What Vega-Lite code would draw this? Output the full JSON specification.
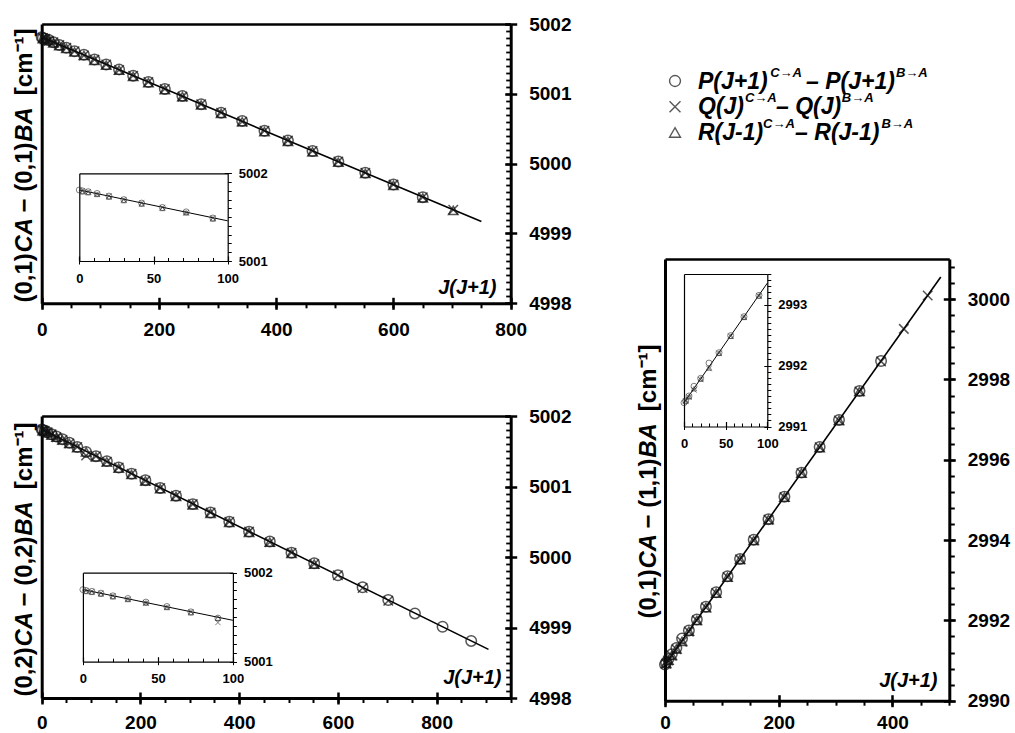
{
"$schema": "https://vega.github.io/schema/vega-lite/v6.json",
"width": 1015, "height": 733, "padding": 0, "autosize": {"type": "none"}, "background": "white",
"config": {"font": "Liberation Sans", "view": {"stroke": null},
  "axis": {"grid": false, "labelFlush": false, "labelOverlap": false, "labelBound": false, "domainColor": "black", "tickColor": "black", "labelColor": "black", "titleColor": "black", "labelFontWeight": "bold", "titleFontWeight": "bold", "labelFont": "Liberation Sans", "titleFont": "Liberation Sans"}},
"resolve": {"scale": {"x": "independent", "y": "independent", "shape": "independent"}, "axis": {"x": "independent", "y": "independent"}},
"datasets": {
 "l1": [{"x": 0, "y": 5001.81}, {"x": 750, "y": 4999.17}],
 "l1in": [{"x": 0, "y": 5001.81}, {"x": 100, "y": 5001.458}],
 "l2": [{"x": 0, "y": 5001.81}, {"x": 905, "y": 4998.69}],
 "l2in": [{"x": 0, "y": 5001.81}, {"x": 100, "y": 5001.465}],
 "l3": [{"x": 0, "y": 2990.9}, {"x": 485, "y": 3000.55}],
 "l3in": [{"x": 0, "y": 2991.39}, {"x": 100, "y": 2993.35}],
 "p1": [
  {"x": 0, "P": 5001.81, "Q": null, "R": null},
  {"x": 2, "P": 5001.80, "Q": 5001.80, "R": 5001.79},
  {"x": 6, "P": 5001.79, "Q": 5001.79, "R": 5001.78},
  {"x": 12, "P": 5001.77, "Q": 5001.76, "R": 5001.76},
  {"x": 20, "P": 5001.74, "Q": 5001.74, "R": 5001.73},
  {"x": 30, "P": 5001.70, "Q": 5001.70, "R": 5001.69},
  {"x": 42, "P": 5001.66, "Q": 5001.66, "R": 5001.65},
  {"x": 56, "P": 5001.61, "Q": 5001.61, "R": 5001.60},
  {"x": 72, "P": 5001.56, "Q": 5001.55, "R": 5001.55},
  {"x": 90, "P": 5001.49, "Q": 5001.49, "R": 5001.48},
  {"x": 110, "P": 5001.42, "Q": 5001.42, "R": 5001.41},
  {"x": 132, "P": 5001.35, "Q": 5001.34, "R": 5001.34},
  {"x": 156, "P": 5001.26, "Q": 5001.26, "R": 5001.25},
  {"x": 182, "P": 5001.17, "Q": 5001.17, "R": 5001.16},
  {"x": 210, "P": 5001.07, "Q": 5001.07, "R": 5001.06},
  {"x": 240, "P": 5000.97, "Q": 5000.96, "R": 5000.96},
  {"x": 272, "P": 5000.85, "Q": 5000.85, "R": 5000.84},
  {"x": 306, "P": 5000.73, "Q": 5000.73, "R": 5000.72},
  {"x": 342, "P": 5000.61, "Q": 5000.60, "R": 5000.60},
  {"x": 380, "P": 5000.47, "Q": 5000.47, "R": 5000.46},
  {"x": 420, "P": 5000.33, "Q": 5000.33, "R": 5000.32},
  {"x": 462, "P": 5000.18, "Q": 5000.18, "R": 5000.17},
  {"x": 506, "P": 5000.03, "Q": 5000.03, "R": 5000.02},
  {"x": 552, "P": 4999.87, "Q": 4999.87, "R": 4999.86},
  {"x": 600, "P": 4999.70, "Q": 4999.70, "R": 4999.69},
  {"x": 650, "P": 4999.52, "Q": 4999.52, "R": 4999.51},
  {"x": 702, "P": null, "Q": 4999.34, "R": 4999.33}],
 "p2": [
  {"x": 0, "P": 5001.81, "Q": null, "R": null},
  {"x": 2, "P": 5001.80, "Q": 5001.80, "R": 5001.79},
  {"x": 6, "P": 5001.79, "Q": 5001.79, "R": 5001.78},
  {"x": 12, "P": 5001.77, "Q": 5001.77, "R": 5001.76},
  {"x": 20, "P": 5001.74, "Q": 5001.74, "R": 5001.73},
  {"x": 30, "P": 5001.71, "Q": 5001.70, "R": 5001.70},
  {"x": 42, "P": 5001.67, "Q": 5001.66, "R": 5001.66},
  {"x": 56, "P": 5001.62, "Q": 5001.61, "R": 5001.61},
  {"x": 72, "P": 5001.56, "Q": 5001.56, "R": 5001.55},
  {"x": 90, "P": 5001.49, "Q": 5001.44, "R": 5001.49},
  {"x": 110, "P": 5001.43, "Q": 5001.43, "R": 5001.42},
  {"x": 132, "P": 5001.36, "Q": 5001.35, "R": 5001.35},
  {"x": 156, "P": 5001.27, "Q": 5001.27, "R": 5001.26},
  {"x": 182, "P": 5001.18, "Q": 5001.18, "R": 5001.17},
  {"x": 210, "P": 5001.09, "Q": 5001.08, "R": 5001.08},
  {"x": 240, "P": 5000.98, "Q": 5000.98, "R": 5000.97},
  {"x": 272, "P": 5000.87, "Q": 5000.87, "R": 5000.86},
  {"x": 306, "P": 5000.75, "Q": 5000.75, "R": 5000.74},
  {"x": 342, "P": 5000.63, "Q": 5000.63, "R": 5000.62},
  {"x": 380, "P": 5000.50, "Q": 5000.50, "R": 5000.49},
  {"x": 420, "P": 5000.36, "Q": 5000.36, "R": 5000.35},
  {"x": 462, "P": 5000.22, "Q": 5000.21, "R": 5000.21},
  {"x": 506, "P": 5000.06, "Q": 5000.06, "R": 5000.05},
  {"x": 552, "P": 4999.91, "Q": 4999.90, "R": 4999.90},
  {"x": 600, "P": 4999.74, "Q": 4999.74, "R": null},
  {"x": 650, "P": 4999.57, "Q": 4999.56, "R": null},
  {"x": 702, "P": 4999.39, "Q": 4999.38, "R": null},
  {"x": 756, "P": 4999.20, "Q": null, "R": null},
  {"x": 812, "P": 4999.01, "Q": null, "R": null},
  {"x": 870, "P": 4998.81, "Q": null, "R": null}],
 "p3": [
  {"x": 0, "P": 2990.90, "Q": null, "R": null},
  {"x": 2, "P": 2990.95, "Q": 2990.92, "R": 2990.93},
  {"x": 6, "P": 2991.04, "Q": 2991.00, "R": 2991.01},
  {"x": 12, "P": 2991.16, "Q": 2991.12, "R": 2991.13},
  {"x": 20, "P": 2991.31, "Q": 2991.28, "R": 2991.29},
  {"x": 30, "P": 2991.55, "Q": 2991.47, "R": 2991.48},
  {"x": 42, "P": 2991.75, "Q": 2991.72, "R": 2991.73},
  {"x": 56, "P": 2992.02, "Q": 2992.00, "R": 2992.00},
  {"x": 72, "P": 2992.34, "Q": 2992.32, "R": 2992.32},
  {"x": 90, "P": 2992.70, "Q": 2992.68, "R": 2992.68},
  {"x": 110, "P": 2993.10, "Q": 2993.08, "R": 2993.08},
  {"x": 132, "P": 2993.53, "Q": 2993.52, "R": 2993.52},
  {"x": 156, "P": 2994.01, "Q": 2993.99, "R": 2993.99},
  {"x": 182, "P": 2994.52, "Q": 2994.51, "R": 2994.51},
  {"x": 210, "P": 2995.08, "Q": 2995.07, "R": 2995.07},
  {"x": 240, "P": 2995.68, "Q": 2995.67, "R": 2995.67},
  {"x": 272, "P": 2996.32, "Q": 2996.31, "R": 2996.30},
  {"x": 306, "P": 2996.99, "Q": 2996.98, "R": 2996.98},
  {"x": 342, "P": 2997.71, "Q": 2997.70, "R": 2997.70},
  {"x": 380, "P": 2998.46, "Q": 2998.45, "R": null},
  {"x": 420, "P": null, "Q": 2999.26, "R": null},
  {"x": 462, "P": null, "Q": 3000.09, "R": null}],
 "p3in": [
  {"x": 0, "P": 2991.39, "Q": null, "R": null},
  {"x": 2, "P": 2991.42, "Q": 2991.42, "R": 2991.42},
  {"x": 6, "P": 2991.50, "Q": 2991.48, "R": 2991.49},
  {"x": 12, "P": 2991.66, "Q": 2991.60, "R": 2991.62},
  {"x": 20, "P": 2991.79, "Q": 2991.77, "R": 2991.78},
  {"x": 30, "P": 2992.04, "Q": 2991.95, "R": 2991.96},
  {"x": 42, "P": 2992.21, "Q": 2992.20, "R": 2992.20},
  {"x": 56, "P": 2992.49, "Q": 2992.48, "R": 2992.48},
  {"x": 72, "P": 2992.80, "Q": 2992.79, "R": 2992.79},
  {"x": 90, "P": 2993.15, "Q": 2993.14, "R": 2993.14}],
 "legend": [
  {"b": "P", "r": 1, "t1": "P(J+1)\u00a0\u00a0\u00a0\u00a0\u00a0\u00a0–\u00a0P(J+1)", "t2": "\u200b\u00a0\u00a0\u00a0\u00a0\u00a0\u00a0\u00a0\u00a0\u00a0\u00a0\u00a0\u00a0\u00a0\u00a0\u00a0\u00a0\u00a0\u00a0\u00a0\u00a0C→A\u00a0\u00a0\u00a0\u00a0\u00a0\u00a0\u00a0\u00a0\u00a0\u00a0\u00a0\u00a0\u00a0\u00a0\u00a0\u00a0\u00a0\u00a0\u00a0\u00a0\u00a0\u00a0\u00a0\u00a0\u00a0\u00a0B→A"},
  {"b": "Q", "r": 2, "t1": "Q(J)\u00a0\u00a0\u00a0\u00a0\u00a0–\u00a0Q(J)", "t2": "\u200b\u00a0\u00a0\u00a0\u00a0\u00a0\u00a0\u00a0\u00a0\u00a0\u00a0\u00a0\u00a0\u00a0C→A\u00a0\u00a0\u00a0\u00a0\u00a0\u00a0\u00a0\u00a0\u00a0\u00a0\u00a0\u00a0\u00a0\u00a0\u00a0\u00a0\u00a0\u00a0B→A"},
  {"b": "R", "r": 3, "t1": "R(J-1)\u00a0\u00a0\u00a0\u00a0\u00a0–\u00a0R(J-1)", "t2": "\u200b\u00a0\u00a0\u00a0\u00a0\u00a0\u00a0\u00a0\u00a0\u00a0\u00a0\u00a0\u00a0\u00a0\u00a0\u00a0\u00a0\u00a0\u00a0C→A\u00a0\u00a0\u00a0\u00a0\u00a0\u00a0\u00a0\u00a0\u00a0\u00a0\u00a0\u00a0\u00a0\u00a0\u00a0\u00a0\u00a0\u00a0\u00a0\u00a0\u00a0\u00a0\u00a0\u00a0B→A"}]
},
"layer": [
 {"data": {"name": "l1"}, "mark": {"type": "line", "color": "black", "strokeWidth": 1.6},
  "encoding": {
   "x": {"field": "x", "type": "quantitative", "scale": {"domain": [0, 800], "range": [41.7, 510.7], "nice": false, "zero": false},
    "axis": {"orient": "bottom", "offset": -429.7, "values": [0, 200, 400, 600, 800], "format": "d", "tickSize": 6, "tickWidth": 2.5, "domainWidth": 3, "labelFontSize": 19, "labelPadding": 11, "title": "J(J+1)", "titleX": 496, "titleY": -10, "titleAlign": "right", "titleBaseline": "alphabetic", "titleFontSize": 20, "titleFontStyle": "italic"}},
   "y": {"field": "y", "type": "quantitative", "scale": {"domain": [4998, 5002], "range": [303.3, 24], "nice": false, "zero": false},
    "axis": {"orient": "right", "offset": -504.3, "values": [4998, 4999, 5000, 5001, 5002], "format": "d", "tickSize": 6, "tickWidth": 2.5, "domainWidth": 3, "labelFontSize": 19, "labelPadding": 12, "title": null}}}},
 {"data": {"name": "p1"}, "transform": [{"filter": "datum.P != null"}], "mark": {"type": "point", "shape": "circle", "filled": false, "color": "#111", "strokeWidth": 1.5, "size": 110},
  "encoding": {
   "x": {"field": "x", "type": "quantitative", "scale": {"domain": [0, 800], "range": [41.7, 510.7], "nice": false, "zero": false},
    "axis": {"orient": "bottom", "offset": -429.7, "values": [0, 200, 400, 600, 800], "tickSize": -6, "tickWidth": 2.5, "labels": false, "domain": false, "title": null}},
   "y": {"field": "P", "type": "quantitative", "scale": {"domain": [4998, 5002], "range": [303.3, 24], "nice": false, "zero": false},
    "axis": {"orient": "right", "offset": -504.3, "values": [4998, 4999, 5000, 5001, 5002], "tickSize": -6, "tickWidth": 2.5, "labels": false, "domain": false, "title": null}}}},
 {"data": {"name": "p1"}, "transform": [{"filter": "datum.Q != null"}], "mark": {"type": "point", "shape": "M-1,-1L1,1M-1,1L1,-1", "filled": false, "color": "#111", "strokeWidth": 1.5, "size": 90},
  "encoding": {
   "x": {"field": "x", "type": "quantitative", "scale": {"domain": [0, 800], "range": [41.7, 510.7], "nice": false, "zero": false},
    "axis": {"orient": "bottom", "offset": -429.7, "values": [0, 50, 100, 150, 200, 250, 300, 350, 400, 450, 500, 550, 600, 650, 700, 750, 800], "tickSize": 4.5, "tickWidth": 2, "labels": false, "domain": false, "title": null}},
   "y": {"field": "Q", "type": "quantitative", "scale": {"domain": [4998, 5002], "range": [303.3, 24], "nice": false, "zero": false},
    "axis": {"orient": "right", "offset": -504.3, "values": [4998, 4998.1, 4998.2, 4998.3, 4998.4, 4998.5, 4998.6, 4998.7, 4998.8, 4998.9, 4999, 4999.1, 4999.2, 4999.3, 4999.4, 4999.5, 4999.6, 4999.7, 4999.8, 4999.9, 5000, 5000.1, 5000.2, 5000.3, 5000.4, 5000.5, 5000.6, 5000.7, 5000.8, 5000.9, 5001, 5001.1, 5001.2, 5001.3, 5001.4, 5001.5, 5001.6, 5001.7, 5001.8, 5001.9, 5002], "tickSize": -5, "tickWidth": 1.8, "labels": false, "domain": false, "title": null}}}},
 {"data": {"name": "p1"}, "transform": [{"filter": "datum.R != null"}], "mark": {"type": "point", "shape": "triangle-up", "filled": false, "color": "#111", "strokeWidth": 1.5, "size": 90},
  "encoding": {
   "x": {"field": "x", "type": "quantitative", "scale": {"domain": [0, 800], "range": [41.7, 510.7], "nice": false, "zero": false},
    "axis": {"orient": "top", "offset": -24, "ticks": false, "labels": false, "domainWidth": 2.5, "title": null}},
   "y": {"field": "R", "type": "quantitative", "scale": {"domain": [4998, 5002], "range": [303.3, 24], "nice": false, "zero": false},
    "axis": {"orient": "left", "offset": -41.7, "ticks": false, "labels": false, "domainWidth": 3, "title": "(0,1)\u2003\u2005\u2006 − (0,1)\u2003\u2005\u2006\u00a0\u00a0[cm⁻¹]", "titleFontSize": 24, "titleAngle": 270, "titleX": -17, "titleY": 302, "titleAlign": "left", "titleBaseline": "middle"}}}},

 {"data": {"name": "l1in"}, "mark": {"type": "line", "color": "black", "strokeWidth": 1},
  "encoding": {
   "x": {"field": "x", "type": "quantitative", "scale": {"domain": [0, 100], "range": [79.3, 227.7], "nice": false, "zero": false},
    "axis": {"orient": "bottom", "offset": -472, "values": [0, 50, 100], "format": "d", "tickSize": 3, "tickWidth": 1, "domainWidth": 1.2, "labelFontSize": 13, "labelPadding": 8, "title": null}},
   "y": {"field": "y", "type": "quantitative", "scale": {"domain": [5001, 5002], "range": [261, 173.3], "nice": false, "zero": false},
    "axis": {"orient": "right", "offset": -787.3, "values": [5001, 5002], "format": "d", "tickSize": 3.5, "tickWidth": 1, "domainWidth": 1.2, "labelFontSize": 13, "labelPadding": 7, "title": null}}}},
 {"data": {"name": "p1"}, "transform": [{"filter": "datum.P != null && datum.x <= 100"}], "mark": {"type": "point", "shape": "circle", "filled": false, "color": "#333", "strokeWidth": 0.9, "size": 36},
  "encoding": {
   "x": {"field": "x", "type": "quantitative", "scale": {"domain": [0, 100], "range": [79.3, 227.7], "nice": false, "zero": false},
    "axis": {"orient": "bottom", "offset": -472, "values": [0, 50, 100], "tickSize": -5, "tickWidth": 1.2, "labels": false, "domain": false, "title": null}},
   "y": {"field": "P", "type": "quantitative", "scale": {"domain": [5001, 5002], "range": [261, 173.3], "nice": false, "zero": false},
    "axis": {"orient": "right", "offset": -787.3, "values": [5001, 5002], "tickSize": -3.5, "tickWidth": 1, "labels": false, "domain": false, "title": null}}}},
 {"data": {"name": "p1"}, "transform": [{"filter": "datum.Q != null && datum.x <= 100"}], "mark": {"type": "point", "shape": "M-1,-1L1,1M-1,1L1,-1", "filled": false, "color": "#333", "strokeWidth": 0.9, "size": 28},
  "encoding": {
   "x": {"field": "x", "type": "quantitative", "scale": {"domain": [0, 100], "range": [79.3, 227.7], "nice": false, "zero": false},
    "axis": {"orient": "bottom", "offset": -472, "values": [0, 10, 20, 30, 40, 50, 60, 70, 80, 90, 100], "tickSize": -3.5, "tickWidth": 1, "labels": false, "domain": false, "title": null}},
   "y": {"field": "Q", "type": "quantitative", "scale": {"domain": [5001, 5002], "range": [261, 173.3], "nice": false, "zero": false},
    "axis": {"orient": "right", "offset": -787.3, "values": [5001, 5001.1, 5001.2, 5001.3, 5001.4, 5001.5, 5001.6, 5001.7, 5001.8, 5001.9, 5002], "tickSize": 3.5, "tickWidth": 1, "labels": false, "domain": false, "title": null}}}},
 {"data": {"name": "p1"}, "transform": [{"filter": "datum.R != null && datum.x <= 100"}], "mark": {"type": "point", "shape": "triangle-up", "filled": false, "color": "#333", "strokeWidth": 0.9, "size": 28},
  "encoding": {
   "x": {"field": "x", "type": "quantitative", "scale": {"domain": [0, 100], "range": [79.3, 227.7], "nice": false, "zero": false},
    "axis": {"orient": "top", "offset": -173.3, "ticks": false, "labels": false, "domainWidth": 1.2, "title": null}},
   "y": {"field": "R", "type": "quantitative", "scale": {"domain": [5001, 5002], "range": [261, 173.3], "nice": false, "zero": false},
    "axis": {"orient": "left", "offset": -79.3, "ticks": false, "labels": false, "domainWidth": 1.2, "title": "\u200b\u2003\u2002\u2004\u2005CA\u2003\u2003\u2003\u2006BA", "titleFontSize": 24, "titleFontStyle": "italic", "titleAngle": 270, "titleX": -54.6, "titleY": 302, "titleAlign": "left", "titleBaseline": "middle"}}}},

 {"data": {"name": "l2"}, "mark": {"type": "line", "color": "black", "strokeWidth": 1.6},
  "encoding": {
   "x": {"field": "x", "type": "quantitative", "scale": {"domain": [0, 950], "range": [41.7, 510.7], "nice": false, "zero": false},
    "axis": {"orient": "bottom", "offset": -35, "values": [0, 200, 400, 600, 800], "format": "d", "tickSize": 6, "tickWidth": 2.5, "domainWidth": 3, "labelFontSize": 19, "labelPadding": 9, "title": "J(J+1)", "titleX": 501, "titleY": -15, "titleAlign": "right", "titleBaseline": "alphabetic", "titleFontSize": 20, "titleFontStyle": "italic"}},
   "y": {"field": "y", "type": "quantitative", "scale": {"domain": [4998, 5002], "range": [698, 416], "nice": false, "zero": false},
    "axis": {"orient": "right", "offset": -504.3, "values": [4998, 4999, 5000, 5001, 5002], "format": "d", "tickSize": 6, "tickWidth": 2.5, "domainWidth": 3, "labelFontSize": 19, "labelPadding": 12, "title": null}}}},
 {"data": {"name": "p2"}, "transform": [{"filter": "datum.P != null"}], "mark": {"type": "point", "shape": "circle", "filled": false, "color": "#111", "strokeWidth": 1.5, "size": 110},
  "encoding": {
   "x": {"field": "x", "type": "quantitative", "scale": {"domain": [0, 950], "range": [41.7, 510.7], "nice": false, "zero": false},
    "axis": {"orient": "bottom", "offset": -35, "values": [0, 200, 400, 600, 800], "tickSize": -6, "tickWidth": 2.5, "labels": false, "domain": false, "title": null}},
   "y": {"field": "P", "type": "quantitative", "scale": {"domain": [4998, 5002], "range": [698, 416], "nice": false, "zero": false},
    "axis": {"orient": "right", "offset": -504.3, "values": [4998, 4999, 5000, 5001, 5002], "tickSize": -6, "tickWidth": 2.5, "labels": false, "domain": false, "title": null}}}},
 {"data": {"name": "p2"}, "transform": [{"filter": "datum.Q != null"}], "mark": {"type": "point", "shape": "M-1,-1L1,1M-1,1L1,-1", "filled": false, "color": "#111", "strokeWidth": 1.5, "size": 90},
  "encoding": {
   "x": {"field": "x", "type": "quantitative", "scale": {"domain": [0, 950], "range": [41.7, 510.7], "nice": false, "zero": false},
    "axis": {"orient": "bottom", "offset": -35, "values": [0, 50, 100, 150, 200, 250, 300, 350, 400, 450, 500, 550, 600, 650, 700, 750, 800, 850, 900, 950], "tickSize": 4.5, "tickWidth": 2, "labels": false, "domain": false, "title": null}},
   "y": {"field": "Q", "type": "quantitative", "scale": {"domain": [4998, 5002], "range": [698, 416], "nice": false, "zero": false},
    "axis": {"orient": "right", "offset": -504.3, "values": [4998, 4998.1, 4998.2, 4998.3, 4998.4, 4998.5, 4998.6, 4998.7, 4998.8, 4998.9, 4999, 4999.1, 4999.2, 4999.3, 4999.4, 4999.5, 4999.6, 4999.7, 4999.8, 4999.9, 5000, 5000.1, 5000.2, 5000.3, 5000.4, 5000.5, 5000.6, 5000.7, 5000.8, 5000.9, 5001, 5001.1, 5001.2, 5001.3, 5001.4, 5001.5, 5001.6, 5001.7, 5001.8, 5001.9, 5002], "tickSize": -5, "tickWidth": 1.8, "labels": false, "domain": false, "title": null}}}},
 {"data": {"name": "p2"}, "transform": [{"filter": "datum.R != null"}], "mark": {"type": "point", "shape": "triangle-up", "filled": false, "color": "#111", "strokeWidth": 1.5, "size": 90},
  "encoding": {
   "x": {"field": "x", "type": "quantitative", "scale": {"domain": [0, 950], "range": [41.7, 510.7], "nice": false, "zero": false},
    "axis": {"orient": "top", "offset": -416, "ticks": false, "labels": false, "domainWidth": 2.5, "title": null}},
   "y": {"field": "R", "type": "quantitative", "scale": {"domain": [4998, 5002], "range": [698, 416], "nice": false, "zero": false},
    "axis": {"orient": "left", "offset": -41.7, "ticks": false, "labels": false, "domainWidth": 3, "title": "(0,2)\u2003\u2005\u2006 − (0,2)\u2003\u2005\u2006\u00a0\u00a0[cm⁻¹]", "titleFontSize": 24, "titleAngle": 270, "titleX": -17, "titleY": 696, "titleAlign": "left", "titleBaseline": "middle"}}}},

 {"data": {"name": "l2in"}, "mark": {"type": "line", "color": "black", "strokeWidth": 1},
  "encoding": {
   "x": {"field": "x", "type": "quantitative", "scale": {"domain": [0, 100], "range": [82.9, 232.9], "nice": false, "zero": false},
    "axis": {"orient": "bottom", "offset": -71.3, "values": [0, 50, 100], "format": "d", "tickSize": 3, "tickWidth": 1, "domainWidth": 1.2, "labelFontSize": 13, "labelPadding": 8, "title": null}},
   "y": {"field": "y", "type": "quantitative", "scale": {"domain": [5001, 5002], "range": [661.7, 572.7], "nice": false, "zero": false},
    "axis": {"orient": "right", "offset": -782.1, "values": [5001, 5002], "format": "d", "tickSize": 3.5, "tickWidth": 1, "domainWidth": 1.2, "labelFontSize": 13, "labelPadding": 7, "title": null}}}},
 {"data": {"name": "p2"}, "transform": [{"filter": "datum.P != null && datum.x <= 100"}], "mark": {"type": "point", "shape": "circle", "filled": false, "color": "#333", "strokeWidth": 0.9, "size": 36},
  "encoding": {
   "x": {"field": "x", "type": "quantitative", "scale": {"domain": [0, 100], "range": [82.9, 232.9], "nice": false, "zero": false},
    "axis": {"orient": "bottom", "offset": -71.3, "values": [0, 50, 100], "tickSize": -5, "tickWidth": 1.2, "labels": false, "domain": false, "title": null}},
   "y": {"field": "P", "type": "quantitative", "scale": {"domain": [5001, 5002], "range": [661.7, 572.7], "nice": false, "zero": false},
    "axis": {"orient": "right", "offset": -782.1, "values": [5001, 5002], "tickSize": -3.5, "tickWidth": 1, "labels": false, "domain": false, "title": null}}}},
 {"data": {"name": "p2"}, "transform": [{"filter": "datum.Q != null && datum.x <= 100"}], "mark": {"type": "point", "shape": "M-1,-1L1,1M-1,1L1,-1", "filled": false, "color": "#333", "strokeWidth": 0.9, "size": 28},
  "encoding": {
   "x": {"field": "x", "type": "quantitative", "scale": {"domain": [0, 100], "range": [82.9, 232.9], "nice": false, "zero": false},
    "axis": {"orient": "bottom", "offset": -71.3, "values": [0, 10, 20, 30, 40, 50, 60, 70, 80, 90, 100], "tickSize": -3.5, "tickWidth": 1, "labels": false, "domain": false, "title": null}},
   "y": {"field": "Q", "type": "quantitative", "scale": {"domain": [5001, 5002], "range": [661.7, 572.7], "nice": false, "zero": false},
    "axis": {"orient": "right", "offset": -782.1, "values": [5001, 5001.1, 5001.2, 5001.3, 5001.4, 5001.5, 5001.6, 5001.7, 5001.8, 5001.9, 5002], "tickSize": 3.5, "tickWidth": 1, "labels": false, "domain": false, "title": null}}}},
 {"data": {"name": "p2"}, "transform": [{"filter": "datum.R != null && datum.x <= 100"}], "mark": {"type": "point", "shape": "triangle-up", "filled": false, "color": "#333", "strokeWidth": 0.9, "size": 28},
  "encoding": {
   "x": {"field": "x", "type": "quantitative", "scale": {"domain": [0, 100], "range": [82.9, 232.9], "nice": false, "zero": false},
    "axis": {"orient": "top", "offset": -572.7, "ticks": false, "labels": false, "domainWidth": 1.2, "title": null}},
   "y": {"field": "R", "type": "quantitative", "scale": {"domain": [5001, 5002], "range": [661.7, 572.7], "nice": false, "zero": false},
    "axis": {"orient": "left", "offset": -82.9, "ticks": false, "labels": false, "domainWidth": 1.2, "title": "\u200b\u2003\u2002\u2004\u2005CA\u2003\u2003\u2003\u2006BA", "titleFontSize": 24, "titleFontStyle": "italic", "titleAngle": 270, "titleX": -58.2, "titleY": 696, "titleAlign": "left", "titleBaseline": "middle"}}}},

 {"data": {"name": "l3"}, "mark": {"type": "line", "color": "black", "strokeWidth": 1.6},
  "encoding": {
   "x": {"field": "x", "type": "quantitative", "scale": {"domain": [0, 500], "range": [665, 949.3], "nice": false, "zero": false},
    "axis": {"orient": "bottom", "offset": -32.3, "values": [0, 200, 400], "format": "d", "tickSize": 6, "tickWidth": 2.5, "domainWidth": 3, "labelFontSize": 19, "labelPadding": 7, "title": "J(J+1)", "titleX": 937, "titleY": -14, "titleAlign": "right", "titleBaseline": "alphabetic", "titleFontSize": 20, "titleFontStyle": "italic"}},
   "y": {"field": "y", "type": "quantitative", "scale": {"domain": [2990, 3001], "range": [700.7, 259], "nice": false, "zero": false},
    "axis": {"orient": "right", "offset": -65.7, "values": [2990, 2992, 2994, 2996, 2998, 3000], "format": "d", "tickSize": 6, "tickWidth": 2.5, "domainWidth": 3, "labelFontSize": 19, "labelPadding": 12, "title": null}}}},
 {"data": {"name": "p3"}, "transform": [{"filter": "datum.P != null"}], "mark": {"type": "point", "shape": "circle", "filled": false, "color": "#111", "strokeWidth": 1.5, "size": 110},
  "encoding": {
   "x": {"field": "x", "type": "quantitative", "scale": {"domain": [0, 500], "range": [665, 949.3], "nice": false, "zero": false},
    "axis": {"orient": "bottom", "offset": -32.3, "values": [0, 200, 400], "tickSize": -6, "tickWidth": 2.5, "labels": false, "domain": false, "title": null}},
   "y": {"field": "P", "type": "quantitative", "scale": {"domain": [2990, 3001], "range": [700.7, 259], "nice": false, "zero": false},
    "axis": {"orient": "right", "offset": -65.7, "values": [2990, 2992, 2994, 2996, 2998, 3000], "tickSize": -6, "tickWidth": 2.5, "labels": false, "domain": false, "title": null}}}},
 {"data": {"name": "p3"}, "transform": [{"filter": "datum.Q != null"}], "mark": {"type": "point", "shape": "M-1,-1L1,1M-1,1L1,-1", "filled": false, "color": "#111", "strokeWidth": 1.5, "size": 90},
  "encoding": {
   "x": {"field": "x", "type": "quantitative", "scale": {"domain": [0, 500], "range": [665, 949.3], "nice": false, "zero": false},
    "axis": {"orient": "bottom", "offset": -32.3, "values": [0, 50, 100, 150, 200, 250, 300, 350, 400, 450, 500], "tickSize": 4.5, "tickWidth": 2, "labels": false, "domain": false, "title": null}},
   "y": {"field": "Q", "type": "quantitative", "scale": {"domain": [2990, 3001], "range": [700.7, 259], "nice": false, "zero": false},
    "axis": {"orient": "right", "offset": -65.7, "values": [2990, 2990.4, 2990.8, 2991.2, 2991.6, 2992, 2992.4, 2992.8, 2993.2, 2993.6, 2994, 2994.4, 2994.8, 2995.2, 2995.6, 2996, 2996.4, 2996.8, 2997.2, 2997.6, 2998, 2998.4, 2998.8, 2999.2, 2999.6, 3000, 3000.4, 3000.8], "tickSize": 5, "tickWidth": 2, "labels": false, "domain": false, "title": null}}}},
 {"data": {"name": "p3"}, "transform": [{"filter": "datum.R != null"}], "mark": {"type": "point", "shape": "triangle-up", "filled": false, "color": "#111", "strokeWidth": 1.5, "size": 90},
  "encoding": {
   "x": {"field": "x", "type": "quantitative", "scale": {"domain": [0, 500], "range": [665, 949.3], "nice": false, "zero": false},
    "axis": {"orient": "top", "offset": -259, "ticks": false, "labels": false, "domainWidth": 2.5, "title": null}},
   "y": {"field": "R", "type": "quantitative", "scale": {"domain": [2990, 3001], "range": [700.7, 259], "nice": false, "zero": false},
    "axis": {"orient": "left", "offset": -665, "ticks": false, "labels": false, "domainWidth": 3, "title": "(0,1)\u2003\u2005\u2006 − (1,1)\u2003\u2005\u2006\u00a0\u00a0[cm⁻¹]", "titleFontSize": 24, "titleAngle": 270, "titleX": -16.3, "titleY": 618, "titleAlign": "left", "titleBaseline": "middle"}}}},

 {"data": {"name": "l3in"}, "mark": {"type": "line", "color": "black", "strokeWidth": 1},
  "encoding": {
   "x": {"field": "x", "type": "quantitative", "scale": {"domain": [0, 100], "range": [684, 767.3], "nice": false, "zero": false},
    "axis": {"orient": "bottom", "offset": -306.5, "values": [0, 50, 100], "format": "d", "tickSize": 3, "tickWidth": 1, "domainWidth": 1.2, "labelFontSize": 13, "labelPadding": 8, "title": null}},
   "y": {"field": "y", "type": "quantitative", "scale": {"domain": [2991, 2993.5], "range": [426.5, 274], "nice": false, "zero": false},
    "axis": {"orient": "right", "offset": -247.7, "values": [2991, 2992, 2993], "format": "d", "tickSize": 3.5, "tickWidth": 1, "domainWidth": 1.2, "labelFontSize": 13, "labelPadding": 7, "title": null}}}},
 {"data": {"name": "p3in"}, "transform": [{"filter": "datum.P != null"}], "mark": {"type": "point", "shape": "circle", "filled": false, "color": "#333", "strokeWidth": 0.9, "size": 36},
  "encoding": {
   "x": {"field": "x", "type": "quantitative", "scale": {"domain": [0, 100], "range": [684, 767.3], "nice": false, "zero": false},
    "axis": {"orient": "bottom", "offset": -306.5, "values": [0, 50, 100], "tickSize": -5, "tickWidth": 1.2, "labels": false, "domain": false, "title": null}},
   "y": {"field": "P", "type": "quantitative", "scale": {"domain": [2991, 2993.5], "range": [426.5, 274], "nice": false, "zero": false},
    "axis": {"orient": "right", "offset": -247.7, "values": [2991, 2992, 2993], "tickSize": -3.5, "tickWidth": 1, "labels": false, "domain": false, "title": null}}}},
 {"data": {"name": "p3in"}, "transform": [{"filter": "datum.Q != null"}], "mark": {"type": "point", "shape": "M-1,-1L1,1M-1,1L1,-1", "filled": false, "color": "#333", "strokeWidth": 0.9, "size": 28},
  "encoding": {
   "x": {"field": "x", "type": "quantitative", "scale": {"domain": [0, 100], "range": [684, 767.3], "nice": false, "zero": false},
    "axis": {"orient": "bottom", "offset": -306.5, "values": [0, 10, 20, 30, 40, 50, 60, 70, 80, 90, 100], "tickSize": -3.5, "tickWidth": 1, "labels": false, "domain": false, "title": null}},
   "y": {"field": "Q", "type": "quantitative", "scale": {"domain": [2991, 2993.5], "range": [426.5, 274], "nice": false, "zero": false},
    "axis": {"orient": "right", "offset": -247.7, "values": [2991, 2991.1, 2991.2, 2991.3, 2991.4, 2991.5, 2991.6, 2991.7, 2991.8, 2991.9, 2992, 2992.1, 2992.2, 2992.3, 2992.4, 2992.5, 2992.6, 2992.7, 2992.8, 2992.9, 2993, 2993.1, 2993.2, 2993.3, 2993.4, 2993.5], "tickSize": 3.5, "tickWidth": 1, "labels": false, "domain": false, "title": null}}}},
 {"data": {"name": "p3in"}, "transform": [{"filter": "datum.R != null"}], "mark": {"type": "point", "shape": "triangle-up", "filled": false, "color": "#333", "strokeWidth": 0.9, "size": 28},
  "encoding": {
   "x": {"field": "x", "type": "quantitative", "scale": {"domain": [0, 100], "range": [684, 767.3], "nice": false, "zero": false},
    "axis": {"orient": "top", "offset": -274, "ticks": false, "labels": false, "domainWidth": 1.2, "title": null}},
   "y": {"field": "R", "type": "quantitative", "scale": {"domain": [2991, 2993.5], "range": [426.5, 274], "nice": false, "zero": false},
    "axis": {"orient": "left", "offset": -684, "ticks": false, "labels": false, "domainWidth": 1.2, "title": "\u200b\u2003\u2002\u2004\u2005CA\u2003\u2003\u2003\u2006BA", "titleFontSize": 24, "titleFontStyle": "italic", "titleAngle": 270, "titleX": -35.3, "titleY": 618, "titleAlign": "left", "titleBaseline": "middle"}}}},

 {"data": {"name": "legend"}, "mark": {"type": "point", "filled": false, "color": "#111", "strokeWidth": 1.4, "size": 120},
  "encoding": {
   "x": {"datum": 0, "type": "quantitative", "scale": {"domain": [0, 1], "range": [675, 900]}, "axis": null},
   "y": {"field": "r", "type": "quantitative", "scale": {"domain": [1, 3], "range": [81, 132.5], "nice": false, "zero": false}, "axis": null},
   "shape": {"field": "b", "type": "nominal", "scale": {"domain": ["P", "Q", "R"], "range": ["circle", "M-1,-1L1,1M-1,1L1,-1", "triangle-up"]}, "legend": null}}},
 {"data": {"name": "legend"}, "mark": {"type": "text", "align": "left", "baseline": "middle", "fontSize": 23, "fontWeight": "bold", "fontStyle": "italic", "color": "black"},
  "encoding": {
   "x": {"datum": 0, "type": "quantitative", "scale": {"domain": [0, 1], "range": [698, 900]}, "axis": null},
   "y": {"field": "r", "type": "quantitative", "scale": {"domain": [1, 3], "range": [81.5, 132.5], "nice": false, "zero": false}, "axis": null},
   "text": {"field": "t1"}}},
 {"data": {"name": "legend"}, "mark": {"type": "text", "align": "left", "baseline": "middle", "fontSize": 13, "fontWeight": "bold", "fontStyle": "italic", "color": "black", "dy": -9},
  "encoding": {
   "x": {"datum": 0, "type": "quantitative", "scale": {"domain": [0, 1], "range": [698, 900]}, "axis": null},
   "y": {"field": "r", "type": "quantitative", "scale": {"domain": [1, 3], "range": [81.5, 132.5], "nice": false, "zero": false}, "axis": null},
   "text": {"field": "t2"}}}
]
}
